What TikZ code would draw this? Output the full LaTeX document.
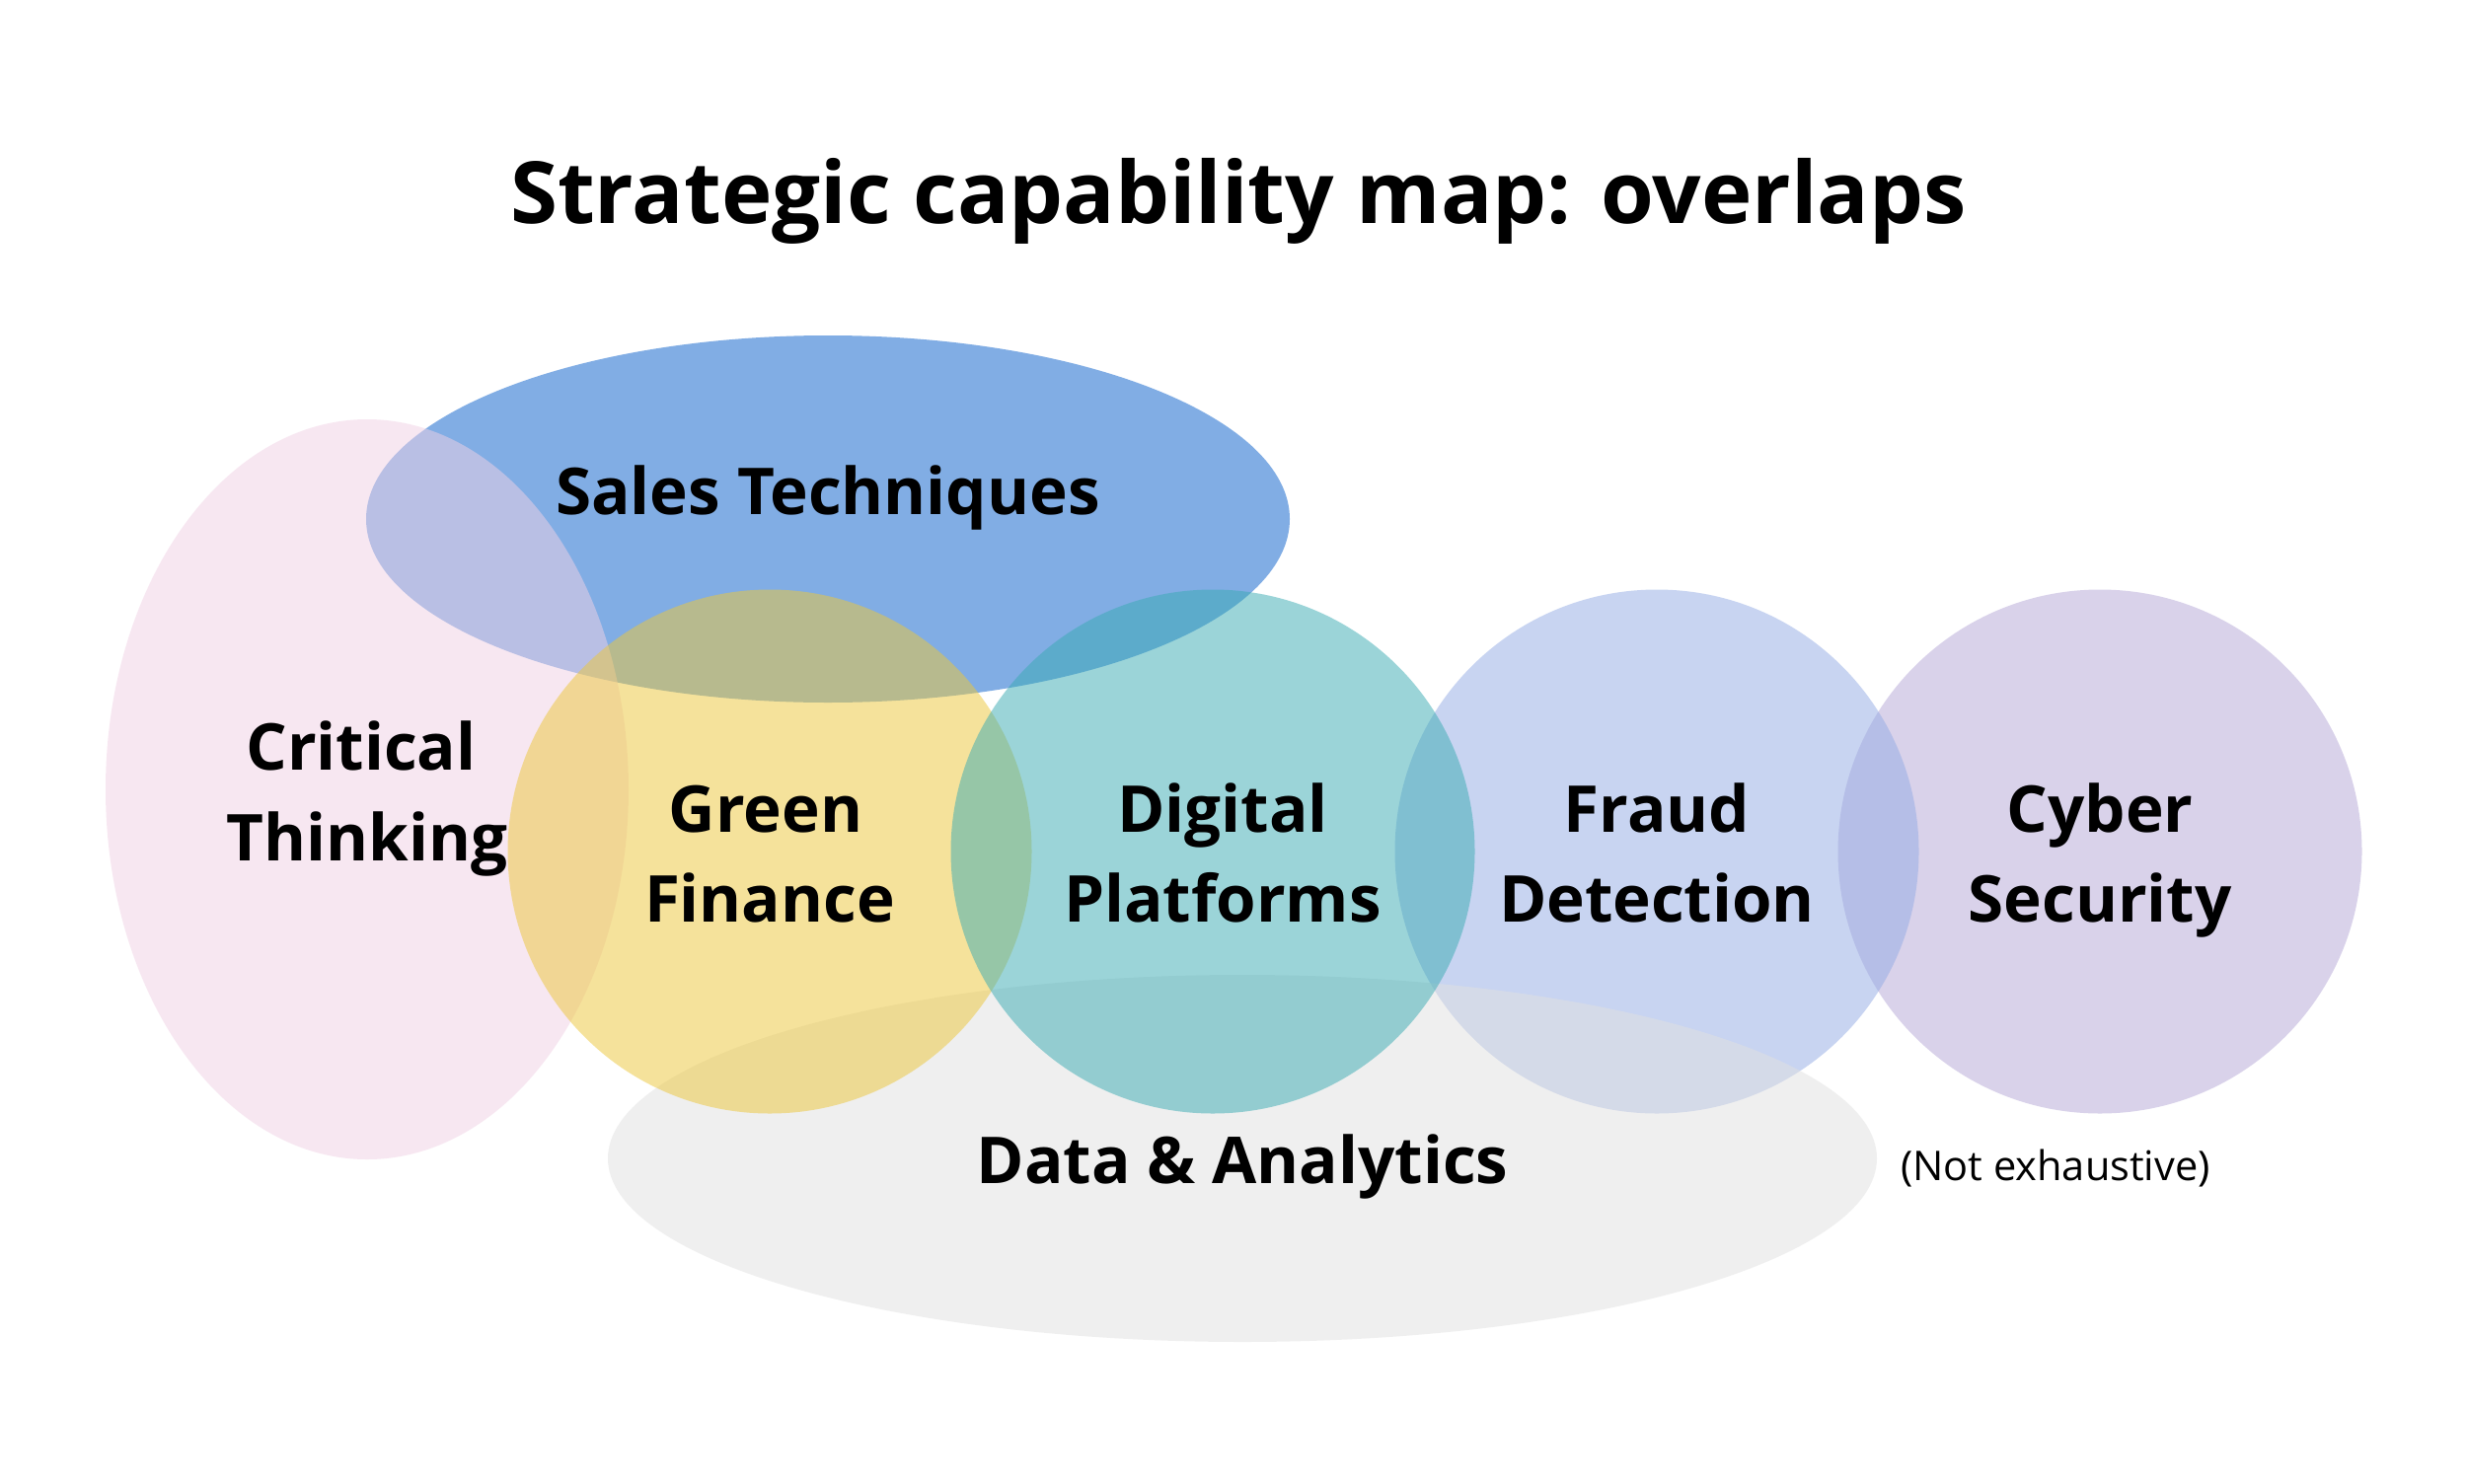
\documentclass[tikz,border=0pt]{standalone}
\usepackage{fontspec}
\setmainfont{Open Sans}
\definecolor{cPink}{RGB}{241,209,229}
\definecolor{cBlue}{RGB}{5,93,203}
\definecolor{cYellow}{RGB}{237,199,57}
\definecolor{cTeal}{RGB}{57,171,179}
\definecolor{cFraud}{RGB}{147,171,229}
\definecolor{cCyber}{RGB}{181,167,215}
\definecolor{cGrey}{RGB}{225,225,225}
\tikzset{
  blob/.style={fill opacity=0.5, draw=none},
  lab/.style={anchor=base, inner sep=0pt, font=\fontsize{65.5}{88}\bfseries\selectfont},
  ttl/.style={anchor=base, inner sep=0pt, font=\fontsize{87}{110}\bfseries\selectfont},
  note/.style={anchor=base, inner sep=0pt, font=\fontsize{41.5}{52}\selectfont}
}
\begin{document}
\begin{tikzpicture}[x=1pt,y=-1pt]
\useasboundingbox[fill=white] (0,0) rectangle (2500,1504);
% shapes (order matters for overlaps)
\fill[blob, cCyber] (2128,863) circle [radius=265.5];
\fill[blob, cFraud] (1679,863) circle [radius=265.5];
\fill[blob, cBlue] (839,526) ellipse [x radius=468, y radius=186];
\fill[blob, cPink] (372,800) ellipse [x radius=265, y radius=375];
\fill[blob, cGrey] (1259,1174) ellipse [x radius=643, y radius=186];
\fill[blob, cYellow] (780,863) circle [radius=265.5];
\fill[blob, cTeal] (1229,863) circle [radius=265.5];
% texts
\node[ttl] (title) at (1255,226) {Strategic capability map: overlaps};
\node[lab] (sales) at (839,521) {Sales Techniques};
\node[lab] (crit1) at (366,780) {Critical};
\node[lab] (crit2) at (372,872) {Thinking};
\node[lab] (green1) at (776,843) {Green};
\node[lab] (green2) at (780,934) {Finance};
\node[lab] (dig1) at (1239,843) {Digital};
\node[lab] (dig2) at (1239,934) {Platforms};
\node[lab] (fraud1) at (1679,843) {Fraud};
\node[lab] (fraud2) at (1679,934) {Detection};
\node[lab] (cyber1) at (2128,843) {Cyber};
\node[lab] (cyber2) at (2128,934) {Security};
\node[lab] (data) at (1259,1199) {Data \& Analytics};
\node[note] (notex) at (2083,1196) {(Not exhaustive)};
\end{tikzpicture}
\end{document}
